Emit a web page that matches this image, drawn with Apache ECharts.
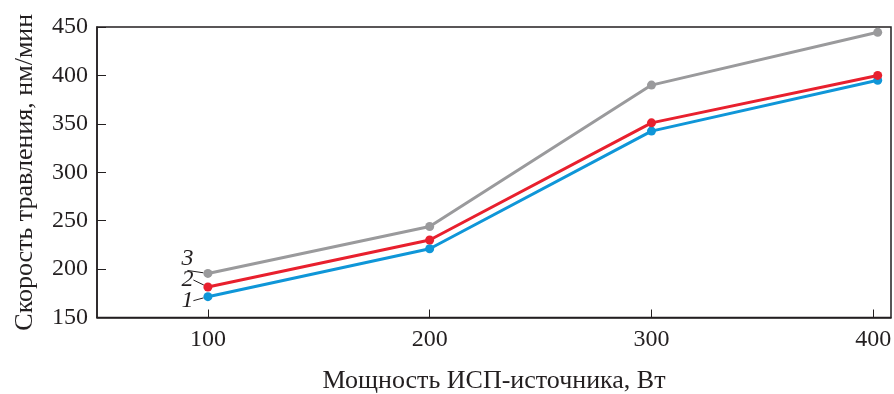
<!DOCTYPE html>
<html>
<head>
<meta charset="utf-8">
<script src="https://cdn.jsdelivr.net/npm/echarts@6/dist/echarts.min.js"></script>
<style>
html,body{margin:0;padding:0;background:#fff;}
#chart{width:894px;height:394px;}
</style>
</head>
<body>
<div id="chart"></div>
<script>
const powers = [100, 200, 300, 402];
const rate1 = [171.5, 221, 342.5, 395];
const rate2 = [181.5, 230, 351, 400];
const rate3 = [195.5, 244, 390, 444.5];
const xTicks = [100, 200, 300, 400];
const seriesNames = ['1', '2', '3'];
const xName = 'Мощность ИСП-источника, Вт';
const yName = 'Скорость травления, нм/мин';

const ink = '#231f20';
const font = 'Liberation Serif';
const colors = ['#0f96d8', '#e8202e', '#9a9a9c'];
const labelShift = [[-2, 4], [-2, -7], [-2, -15]];

function mk(vals, i) {
  const data = powers.map((p, k) => {
    const item = { value: [p, vals[k]] };
    if (k === 0) {
      item.label = {
        show: true,
        position: 'left',
        distance: 8,
        formatter: seriesNames[i],
        fontFamily: font,
        fontStyle: 'italic',
        fontSize: 24,
        color: ink
      };
      item.labelLine = { show: true, lineStyle: { color: ink, width: 1 } };
    }
    return item;
  });
  return {
    name: seriesNames[i],
    type: 'line',
    data: data,
    symbol: 'circle',
    symbolSize: 9,
    lineStyle: { color: colors[i], width: 3 },
    itemStyle: { color: colors[i] },
    z: 3 + i,
    label: { show: false },
    labelLayout: (p) => p.dataIndex === 0 ? { dx: labelShift[i][0], dy: labelShift[i][1] } : {},
    labelLine: { show: false }
  };
}

const chart = echarts.init(document.getElementById('chart'));
chart.setOption({
  animation: false,
  backgroundColor: '#fff',
  grid: { left: 97, right: 3, top: 27, bottom: 76.5, show: true, borderColor: ink, borderWidth: 1.5,
          containLabel: false, outerBoundsMode: 'none' },
  xAxis: {
    type: 'value', min: 50, max: 408,
    name: xName, nameLocation: 'middle', nameGap: 51,
    nameTextStyle: { fontFamily: font, fontSize: 26, color: ink },
    axisLine: { show: true, lineStyle: { color: ink, width: 1.5 } },
    axisTick: { show: true, inside: true, length: 8, customValues: xTicks, lineStyle: { color: ink, width: 1 } },
    axisLabel: { customValues: xTicks, fontFamily: font, fontSize: 24, color: ink, margin: 10 },
    splitLine: { show: false }
  },
  yAxis: {
    type: 'value', min: 150, max: 450, interval: 50,
    name: yName, nameLocation: 'middle', nameGap: 59,
    nameTextStyle: { fontFamily: font, fontSize: 26, color: ink },
    axisLine: { show: true, lineStyle: { color: ink, width: 1.5 } },
    axisTick: { show: true, inside: true, length: 9, lineStyle: { color: ink, width: 1 } },
    axisLabel: { fontFamily: font, fontSize: 24, color: ink, margin: 9 },
    splitLine: { show: false }
  },
  series: [mk(rate1, 0), mk(rate2, 1), mk(rate3, 2)]
});
</script>
</body>
</html>
